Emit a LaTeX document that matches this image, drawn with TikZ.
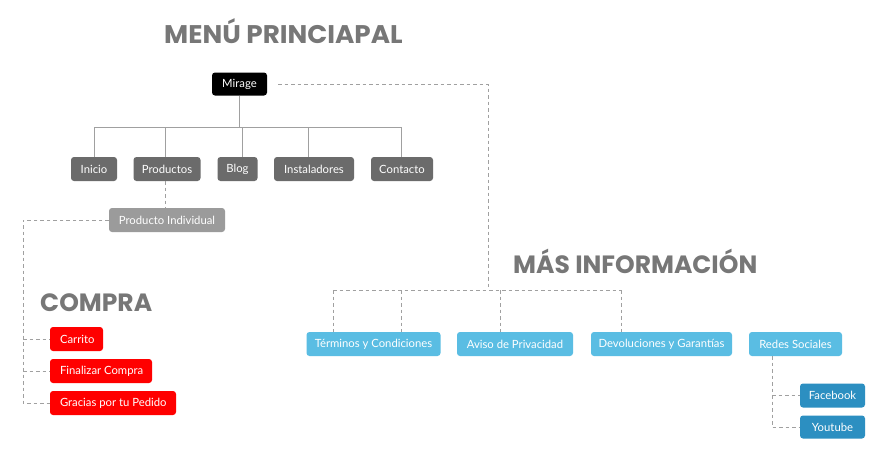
\documentclass[tikz,border=0pt]{standalone}
\usepackage{fontspec}
\setmainfont{Lato}
\newfontfamily\titlefont{Poppins}
\definecolor{ttl}{HTML}{777777}
\definecolor{gbox}{HTML}{6B6B6B}
\definecolor{pbox}{HTML}{9B9B9B}
\definecolor{rbox}{HTML}{FF0000}
\definecolor{lblue}{HTML}{5ABDE3}
\definecolor{dblue}{HTML}{2C8FC1}
\definecolor{lin}{HTML}{A0A0A0}
\newcommand{\lefttext}[2]{\makebox[#1][l]{#2}}
\begin{document}
\begin{tikzpicture}[x=1pt,y=-1pt,
  box/.style={rounded corners=3pt, text=white, font=\fontsize{11.3}{13}\selectfont,
    inner sep=0pt, minimum height=24pt, anchor=center},
  gb/.style={box, fill=gbox},
  pb/.style={box, fill=pbox},
  rb/.style={box, fill=rbox},
  lb/.style={box, fill=lblue},
  db/.style={box, fill=dblue},
  title/.style={font=\titlefont\bfseries\fontsize{25}{30}\selectfont, text=ttl, anchor=base west, inner sep=0pt},
  sline/.style={draw=lin, line width=0.8pt},
  dline/.style={draw=lin, line width=0.8pt, dash pattern=on 3.5pt off 3pt}
]
\useasboundingbox (0,0) rectangle (888,455);
\fill[white] (0,0) rectangle (888,455);

% titles
\node[title, font=\titlefont\bfseries\fontsize{25.5}{30}\selectfont, xscale=1.03] (t1) at (164,43) {MENÚ PRINCIAPAL};
\node[title] (t2) at (40,311) {COMPRA};
\node[title] (t3) at (513,273) {MÁS INFORMACIÓN};

% main menu
\node[box, fill=black, minimum width=55pt, minimum height=23pt] (mirage) at (239.5,84) {Mirage};
\node[gb, minimum width=46pt] (inicio) at (94,169) {Inicio};
\node[gb, minimum width=67pt] (productos) at (167,169) {Productos};
\node[gb, minimum width=40pt] (blog) at (237.5,169) {Blog};
\node[gb, minimum width=80pt] (instal) at (314,169) {Instaladores};
\node[gb, minimum width=62pt] (contacto) at (402,169) {Contacto};
\node[pb, minimum width=116pt] (pind) at (167,220) {Producto Individual};

% compra
\node[rb, minimum width=53pt] (carrito) at (76.5,339) {\lefttext{33pt}{Carrito}};
\node[rb, minimum width=102pt] (final) at (101,371) {\lefttext{82pt}{Finalizar Compra}};
\node[rb, minimum width=126pt] (gracias) at (113,403) {\lefttext{106pt}{Gracias por tu Pedido}};

% mas informacion
\node[lb, minimum width=134pt] (term) at (373.5,344) {Términos y Condiciones};
\node[lb, minimum width=116pt] (aviso) at (515,344) {Aviso de Privacidad};
\node[lb, minimum width=141pt] (devol) at (661.5,344) {Devoluciones y Garantías};
\node[lb, minimum width=93pt] (redes) at (795.5,344) {Redes Sociales};
\node[db, minimum width=65pt] (fb) at (832.5,395.5) {Facebook};
\node[db, minimum width=65pt, minimum height=23pt] (yt) at (832.5,427) {Youtube};

% solid tree
\coordinate (bar) at (240,127);
\draw[sline] (mirage.south) -- (mirage.south |- bar);
\draw[sline] (inicio.north |- bar) -- ([xshift=-1pt]contacto.north |- bar);
\draw[sline] (inicio.north |- bar) -- (inicio.north);
\draw[sline] ([xshift=-2pt]productos.north |- bar) -- ([xshift=-2pt]productos.north);
\draw[sline] ([xshift=5pt]blog.north |- bar) -- ([xshift=5pt]blog.north);
\draw[sline] ([xshift=-6pt]instal.north |- bar) -- ([xshift=-6pt]instal.north);
\draw[sline] ([xshift=-1pt]contacto.north |- bar) -- ([xshift=-1pt]contacto.north);

% dashed: productos -> individual -> compra
\draw[dline] ([xshift=-2pt]productos.south) -- ([xshift=-2pt]pind.north);
\coordinate (cl) at (23,403);
\draw[dline] (pind.west) -| (cl) -- (gracias.west);
\draw[dline] (carrito.west -| cl) -- (carrito.west);
\draw[dline] (final.west -| cl) -- (final.west);

% dashed: mirage -> mas informacion
\coordinate (mj) at (488,290);
\coordinate (hl) at (333,290);
\coordinate (hr) at (621,290);
\draw[dline] ([xshift=11pt]mirage.east) -| (mj);
\draw[dline] (hl) -- (hr);
\draw[dline] ([xshift=-40.5pt]term.north |- hl) -- ([xshift=-40.5pt]term.north);
\draw[dline] ([xshift=27.5pt]term.north |- hl) -- ([xshift=27.5pt]term.north);
\draw[dline] ([xshift=-15pt]aviso.north |- hl) -- ([xshift=-15pt]aviso.north);
\draw[dline] ([xshift=-40.5pt]devol.north |- hl) -- ([xshift=-40.5pt]devol.north);

% redes sociales
\coordinate (rx) at (772,427);
\draw[dline] ([xshift=-23.5pt]redes.south) |- (yt.west);
\draw[dline] (fb.west -| rx) -- (fb.west);
\end{tikzpicture}
\end{document}
